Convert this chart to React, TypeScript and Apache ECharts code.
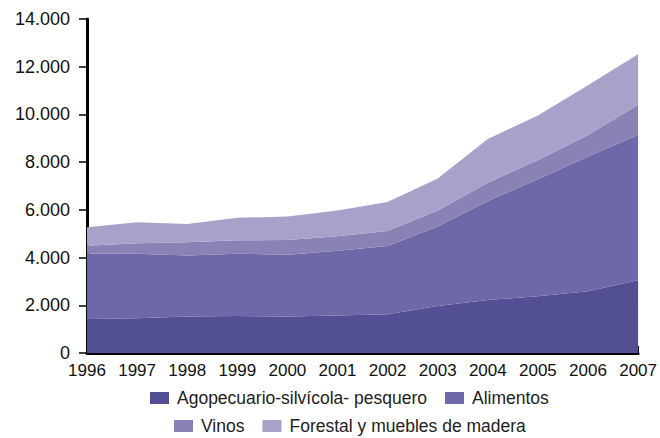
import React, { useEffect, useRef } from "react";
import * as echarts from "echarts";

const years = ["1996", "1997", "1998", "1999", "2000", "2001", "2002", "2003", "2004", "2005", "2006", "2007"];
const agropecuario = [1420, 1460, 1530, 1550, 1530, 1570, 1620, 1970, 2220, 2380, 2590, 3050];
const alimentos = [2755, 2700, 2560, 2610, 2590, 2720, 2865, 3330, 4150, 4905, 5650, 6090];
const vinos = [325, 437, 549, 564, 617, 603, 631, 676, 771, 802, 902, 1266];
const forestal = [772, 886, 771, 941, 986, 1084, 1210, 1334, 1830, 1869, 2080, 2121];

const seriesNames = ["Agopecuario-silvícola- pesquero", "Alimentos", "Vinos", "Forestal y muebles de madera"];
const colors = ["#524f94", "#6d68a8", "#8a81b5", "#a8a2cb"];

export default function App() {
  const ref = useRef<HTMLDivElement>(null);
  useEffect(() => {
    if (!ref.current) return;
    const chart = echarts.init(ref.current, null, { renderer: "svg" });
    const font = "Liberation Sans, Arial, Helvetica, sans-serif";
    const data = [agropecuario, alimentos, vinos, forestal];
    const legendText = { fontSize: 17.5, color: "#222", fontFamily: font, padding: [0, 0, 0, 3] };
    chart.setOption({
      animation: false,
      color: colors,
      textStyle: { fontFamily: font },
      grid: { left: 87, right: 20, top: 19, bottom: 85, containLabel: false },
      legend: [
        {
          data: [seriesNames[0], seriesNames[1]],
          left: 145,
          top: 384,
          itemWidth: 19,
          itemHeight: 12,
          itemGap: 18,
          icon: "rect",
          textStyle: legendText,
        },
        {
          data: [seriesNames[2], seriesNames[3]],
          left: 169,
          top: 412,
          itemWidth: 19,
          itemHeight: 12,
          itemGap: 18,
          icon: "rect",
          textStyle: legendText,
        },
      ],
      xAxis: {
        type: "category",
        data: years,
        boundaryGap: false,
        axisLine: { lineStyle: { color: "#000", width: 3 } },
        axisTick: { inside: true, length: 7, lineStyle: { color: "#000", width: 2 } },
        axisLabel: { color: "#111", fontSize: 17, margin: 9, fontFamily: font },
        splitLine: { show: false },
      },
      yAxis: {
        type: "value",
        min: 0,
        max: 14000,
        interval: 2000,
        axisLine: { show: true, lineStyle: { color: "#000", width: 3 } },
        axisTick: { show: true, length: 8, lineStyle: { color: "#000", width: 1.5 } },
        axisLabel: {
          color: "#111",
          fontSize: 18,
          margin: 17,
          fontFamily: font,
          formatter: (v: number) => (v === 0 ? "0" : String(v).replace(/\B(?=(\d{3})+(?!\d))/g, ".")),
        },
        splitLine: { show: false },
      },
      series: data.map((d, i) => ({
        name: seriesNames[i],
        type: "line",
        stack: "total",
        data: d,
        symbol: "none",
        lineStyle: { width: 0 },
        areaStyle: { color: colors[i], opacity: 1 },
        itemStyle: { color: colors[i] },
        z: 1,
      })),
    });
    return () => chart.dispose();
  }, []);
  return <div ref={ref} style={{ width: 660, height: 438, position: "absolute", left: 0, top: 0 }} />;
}
